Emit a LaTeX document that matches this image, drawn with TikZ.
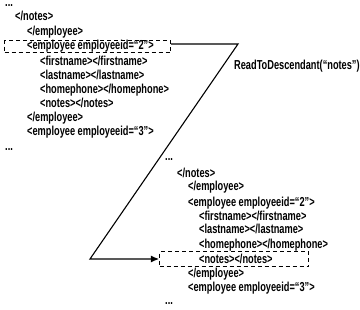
\documentclass[tikz,border=0pt]{standalone}
\usepackage{fontspec}
\setmainfont{Liberation Sans}[FakeStretch=0.76,BoldFeatures={FakeStretch=0.71}]
\usetikzlibrary{arrows.meta}
\begin{document}
\begin{tikzpicture}[x=1pt,y=-1pt,
  code/.style={anchor=base west, inner sep=0pt, font=\fontsize{13}{15}\selectfont\bfseries},
  hl/.style={draw, dash pattern=on 4pt off 3pt, line width=1.1pt, inner sep=0pt, anchor=north west},
  link/.style={line width=1.1pt, line join=miter},
  tip/.style={-{Latex[length=8pt,width=7pt]}}]
\useasboundingbox[fill=white] (0,0) rectangle (360,310);

% reader position before the call
\node[code] (a0) at (5,7)    {...};
\node[code] (a1) at (15,21)  {</notes>};
\node[code] (a2) at (27,36)  {</employee>};
\node[code] (a3) at (27,50)  {<employee employeeid=“2”>};
\node[code] (a4) at (40,66)  {<firstname></firstname>};
\node[code] (a5) at (40,80)  {<lastname></lastname>};
\node[code] (a6) at (40,94)  {<homephone></homephone>};
\node[code] (a7) at (40,108) {<notes></notes>};
\node[code] (a8) at (27,122) {</employee>};
\node[code] (a9) at (27,136) {<employee employeeid=“3”>};
\node[code] (a10) at (5,151) {...};
\node[hl, minimum width=166pt, minimum height=12pt] (lbox) at (4,40) {};

% reader position after the call
\node[code] (b0) at (165,161)  {...};
\node[code] (b1) at (177,178)  {</notes>};
\node[code] (b2) at (188,191)  {</employee>};
\node[code] (b3) at (188,207)  {<employee employeeid=“2”>};
\node[code] (b4) at (199,221)  {<firstname></firstname>};
\node[code] (b5) at (199,234)  {<lastname></lastname>};
\node[code] (b6) at (199,249)  {<homephone></homephone>};
\node[code] (b7) at (199,264)  {<notes></notes>};
\node[code] (b8) at (188,278)  {</employee>};
\node[code] (b9) at (188,292)  {<employee employeeid=“3”>};
\node[code] (b10) at (165,305) {...};
\node[hl, minimum width=149pt, minimum height=15pt] (rbox) at (159,251) {};

% method label
\node[code] (call) at (234,70) {ReadToDescendant(“notes”)};

% jump from the first box to the second
\coordinate (k1) at (238,44);
\coordinate (k2) at (90,259);
\draw[link, tip] (lbox.east |- k1) -- (k1) -- (k2) -- (k2 -| rbox.west);
\end{tikzpicture}
\end{document}
